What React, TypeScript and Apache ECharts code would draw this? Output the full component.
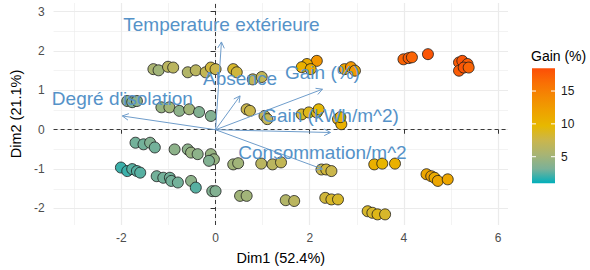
import React, { useEffect, useRef } from "react";
import * as echarts from "echarts";

// Individuals (PCA scores)
const dim1: number[] = [
  -1.32, -1.21, -1.01, -0.9, -0.59, -0.42, -0.21, -0.1, 0.0, 0.375, 0.45, 0.79, 0.98,
  -1.875, -1.77, -1.67, -1.15, -0.98, -0.77, -0.56, -0.35, -0.1,
  0.66, 0.73, 1.04, 1.1, 1.83, 1.98, 2.15, 2.19, 2.6, 2.67, 2.65,
  2.15, 1.94, 1.83, 2.02, 2.74, 2.875, 2.96,
  3.99, 4.1, 4.17, 4.51, 5.17, 5.24, 5.35, 5.17, 5.27, 5.375,
  4.48, 4.58, 4.65, 4.72, 4.93,
  0.375, 0.48, 0.97, 1.21, 1.39, 2.25, 2.35, 2.46, 3.37, 3.54, 3.81,
  1.49, 1.67, 2.33, 2.46, 2.6, 3.23, 3.33, 3.44, 3.6,
  -1.7, -1.53, -1.39, -1.29, -0.87, -0.59, -0.52, -0.38, -0.1, -0.035, -0.14,
  -2.01, -1.875, -1.77, -1.67, -1.6, -1.25, -1.11, -0.97, -0.94, -0.8, -0.52, -0.42, -0.07, 0.0, 0.52, 0.66,
];
const dim2: number[] = [
  1.54, 1.51, 1.6, 1.58, 1.46, 1.51, 1.46, 1.58, 1.54, 1.54, 1.46, 1.28, 1.34,
  0.73, 0.7, 0.73, 0.57, 0.57, 0.48, 0.52, 0.45, 0.35,
  0.52, 0.48, 0.35, 0.27, 0.39, 0.44, 0.44, 0.52, 0.27, 0.14, 0.32,
  1.75, 1.67, 1.59, 1.54, 1.54, 1.59, 1.5,
  1.79, 1.82, 1.84, 1.92, 1.71, 1.75, 1.67, 1.5, 1.58, 1.58,
  -1.13, -1.18, -1.22, -1.3, -1.26,
  -0.88, -0.85, -0.86, -0.88, -0.83, -1.01, -1.01, -1.05, -0.88, -0.86, -0.86,
  -1.79, -1.81, -1.73, -1.77, -1.77, -2.07, -2.11, -2.15, -2.15,
  -0.33, -0.37, -0.33, -0.45, -0.5, -0.5, -0.58, -0.62, -0.62, -0.75, -0.79,
  -0.96, -1.05, -1.0, -1.05, -1.09, -1.18, -1.22, -1.22, -1.3, -1.34, -1.3, -1.47, -1.56, -1.56, -1.68, -1.68,
];
const gain: number[] = [
  5.5, 5, 6.5, 6.5, 6, 6.5, 7, 8, 7.5, 8.5, 8, 7, 7,
  4, 3.5, 4, 4.5, 5, 4, 5, 3.5, 3.5,
  7.5, 7.5, 7, 7, 8.5, 9, 9, 9.5, 10, 10.5, 10,
  13, 11, 10.5, 11, 12, 13, 12.5,
  17, 17.5, 17, 18, 17.5, 18, 17.5, 17.5, 18, 17,
  11.5, 12, 11, 11.5, 11.5,
  5, 5, 6.5, 6.5, 7, 7.5, 8, 7.5, 10.5, 10, 10.5,
  6, 6.5, 8, 8.5, 8.5, 8.5, 8.5, 9, 8.5,
  3, 3, 3.5, 3, 4, 4, 4.5, 4, 4.5, 4.5, 3.5,
  2, 2, 2.5, 2.5, 2.5, 3, 3, 3, 3, 3, 4, 2.5, 3.5, 3.5, 5, 5,
];

// Variables (PCA loadings arrows)
const varNames: string[] = [
  "Temperature extérieure",
  "Absence",
  "Gain (%)",
  "Gain (kWh/m^2)",
  "Consommation/m^2",
  "Degré d'isolation",
];
const varDim1: number[] = [0.125, 0.52, 2.27, 2.44, 2.27, -1.98];
const varDim2: number[] = [2.23, 0.86, 1.03, -0.07, -1.0, 0.35];

// Axes
const xTicks: number[] = [-2, 0, 2, 4, 6];
const xMinor: number[] = [-3, -1, 1, 3, 5];
const yTicks: number[] = [-2, -1, 0, 1, 2, 3];
const yMinor: number[] = [-2.5, -1.5, -0.5, 0.5, 1.5, 2.5];
const legendTicks: number[] = [5, 10, 15];
const gainMin = 0.95;
const gainMax = 18.46;

// teal -> gold -> orange, interpolated in Lab like ggplot
const palette: string[] = [
  "#00AFBB", "#7BB198", "#A8B474", "#CAB64C", "#E7B800",
  "#EEA200", "#F48A02", "#F96F04", "#FC4E07",
];

const FONT = "Liberation Sans, Arial, Helvetica, sans-serif";
const VAR_COLOR = "#5592C8";
const ARROW_COLOR = "#6F9DCB";

export default function App() {
  const ref = useRef<HTMLDivElement>(null);
  useEffect(() => {
    document.body.style.margin = "0";
    const chart = echarts.init(ref.current!, null, { renderer: "svg" });

    const barTop = 68.3;
    const barH = 115;
    const barLeft = 532;
    const barW = 23;
    const legendY = (v: number) => barTop + (barH * (gainMax - v)) / (gainMax - gainMin);

    const gridLines = [
      ...xTicks.map((v) => ({ xAxis: v, lineStyle: { color: "#EBEBEB", width: 1.2, type: "solid" } })),
      ...xMinor.map((v) => ({ xAxis: v, lineStyle: { color: "#EBEBEB", width: 0.6, type: "solid" } })),
      ...yTicks.map((v) => ({ yAxis: v, lineStyle: { color: "#EBEBEB", width: 1.2, type: "solid" } })),
      ...yMinor.map((v) => ({ yAxis: v, lineStyle: { color: "#EBEBEB", width: 0.6, type: "solid" } })),
    ];

    const points = dim1.map((x, i) => [x, dim2[i], gain[i]]);
    const arrows = varDim1.map((x, i) => [x, varDim2[i], varNames[i]]);

    const n = palette.length;
    const colorStops = palette
      .map((c, i) => ({ offset: 1 - i / (n - 1), color: c }))
      .reverse();

    const option: any = {
      animation: false,
      textStyle: { fontFamily: FONT },
      grid: { left: 45, right: 82, top: 3, bottom: 45 },
      xAxis: {
        type: "value",
        min: -3.44,
        max: 6.21,
        axisLine: { show: false },
        splitLine: { show: false },
        axisTick: { show: true, customValues: xTicks, length: 4, lineStyle: { color: "#333333", width: 1 } },
        axisLabel: { customValues: xTicks, color: "#4D4D4D", fontSize: 12, margin: 7, fontFamily: FONT },
        name: "Dim1 (52.4%)",
        nameLocation: "middle",
        nameGap: 25,
        nameTextStyle: { color: "#000000", fontSize: 14.5, fontFamily: FONT },
      },
      yAxis: {
        type: "value",
        min: -2.42,
        max: 3.22,
        axisLine: { show: false },
        splitLine: { show: false },
        axisTick: { show: true, customValues: yTicks, length: 5, lineStyle: { color: "#333333", width: 1 } },
        axisLabel: { customValues: yTicks, color: "#4D4D4D", fontSize: 12, margin: 9, fontFamily: FONT },
        name: "Dim2 (21.1%)",
        nameLocation: "middle",
        nameGap: 19,
        nameTextStyle: { color: "#000000", fontSize: 14.5, fontFamily: FONT },
      },
      visualMap: {
        type: "continuous",
        show: false,
        seriesIndex: 1,
        dimension: 2,
        min: gainMin,
        max: gainMax,
        inRange: { color: palette },
      },
      graphic: [
        {
          type: "text",
          left: 531,
          top: 49,
          style: { text: "Gain (%)", fontSize: 14, fill: "#000000", fontFamily: FONT },
        },
        {
          type: "rect",
          shape: { x: barLeft, y: barTop, width: barW, height: barH },
          style: {
            fill: { type: "linear", x: 0, y: 0, x2: 0, y2: 1, colorStops },
          },
          z: 90,
        },
        ...legendTicks.flatMap((v) => [
          {
            type: "line",
            shape: { x1: barLeft, y1: legendY(v), x2: barLeft + 4, y2: legendY(v) },
            style: { stroke: "#FFFFFF", lineWidth: 1 },
            z: 100,
          },
          {
            type: "line",
            shape: { x1: barLeft + barW - 4, y1: legendY(v), x2: barLeft + barW, y2: legendY(v) },
            style: { stroke: "#FFFFFF", lineWidth: 1 },
            z: 100,
          },
          {
            type: "text",
            x: barLeft + barW + 6,
            y: legendY(v),
            style: {
              text: String(v),
              fontSize: 12,
              fill: "#1A1A1A",
              fontFamily: FONT,
              verticalAlign: "middle",
              align: "left",
            },
            z: 100,
          },
        ]),
      ],
      series: [
        {
          type: "scatter",
          data: [],
          silent: true,
          markLine: {
            silent: true,
            symbol: "none",
            label: { show: false },
            z: 0,
            data: [
              ...gridLines,
              { xAxis: 0, lineStyle: { color: "#3A3A3A", width: 1, type: [4, 3] } },
              { yAxis: 0, lineStyle: { color: "#3A3A3A", width: 1, type: [4, 3] } },
            ],
          },
        },
        {
          type: "scatter",
          data: points,
          symbolSize: 11,
          itemStyle: { borderColor: "#1A1A1A", borderWidth: 0.8, opacity: 1 },
          z: 3,
        },
        {
          type: "custom",
          data: arrows,
          z: 4,
          encode: { x: 0, y: 1 },
          renderItem: (params: any, api: any) => {
            const o = api.coord([0, 0]);
            const e = api.coord([api.value(0), api.value(1)]);
            const ang = Math.atan2(e[1] - o[1], e[0] - o[0]);
            const h = 7;
            const phi = (28 * Math.PI) / 180;
            const p1 = [e[0] - h * Math.cos(ang - phi), e[1] - h * Math.sin(ang - phi)];
            const p2 = [e[0] - h * Math.cos(ang + phi), e[1] - h * Math.sin(ang + phi)];
            return {
              type: "group",
              children: [
                {
                  type: "line",
                  shape: { x1: o[0], y1: o[1], x2: e[0], y2: e[1] },
                  style: { stroke: ARROW_COLOR, lineWidth: 1 },
                },
                {
                  type: "polyline",
                  shape: { points: [p1, e, p2] },
                  style: { stroke: ARROW_COLOR, lineWidth: 1, fill: "none" },
                },
              ],
            };
          },
        },
        {
          type: "custom",
          data: arrows,
          z: 5,
          encode: { x: 0, y: 1 },
          renderItem: (params: any, api: any) => {
            const e = api.coord([api.value(0), api.value(1)]);
            return {
              type: "text",
              x: e[0],
              y: e[1] - 17,
              style: {
                text: varNames[params.dataIndex],
                fontSize: 19,
                fill: VAR_COLOR,
                fontFamily: FONT,
                align: "center",
                verticalAlign: "middle",
              },
            };
          },
        },
      ],
    };
    chart.setOption(option);
    return () => chart.dispose();
  }, []);
  return <div ref={ref} style={{ width: 590, height: 270 }} />;
}
